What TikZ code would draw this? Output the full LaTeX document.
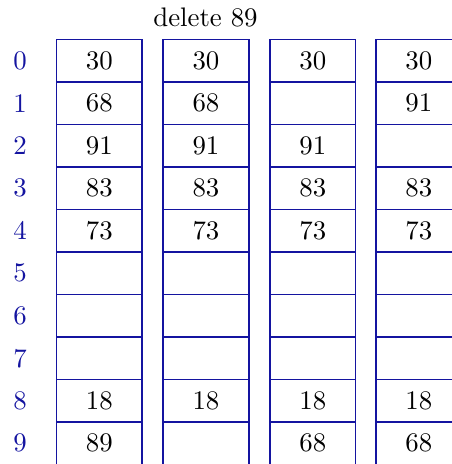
\documentclass[tikz,border=0pt]{standalone}
\definecolor{idx}{RGB}{20,20,160}
\begin{document}
\begin{tikzpicture}[x=0.0131cm,y=-0.0131cm,
  cell/.style={draw=idx,line width=0.7pt,minimum width=1.12cm,minimum height=0.5568cm,inner sep=0pt,anchor=center},
  idxlabel/.style={text=idx,inner sep=0pt}]
\useasboundingbox (0,0) rectangle (452,464);
\clip (0,0) rectangle (452,464);
\node[anchor=base,inner sep=0pt] (title) at (205.5,27) {delete 89};
\foreach \r in {0,...,9} {
  \node[idxlabel] (i\r) at ({20},{60.75+42.5*\r}) {\r};
}
\foreach \c/\xl/\vals in {1/56.5/{30,68,91,83,73,{},{},{},18,89},
                          2/163.2/{30,68,91,83,73,{},{},{},18,{}},
                          3/270/{30,{},91,83,73,{},{},{},18,68},
                          4/376/{30,91,{},83,73,{},{},{},18,68}} {
  \foreach \v [count=\r from 0] in \vals {
    \node[cell] (c\c-\r) at ({\xl+42.75},{60.75+42.5*\r}) {\v};
  }
}
\end{tikzpicture}
\end{document}
